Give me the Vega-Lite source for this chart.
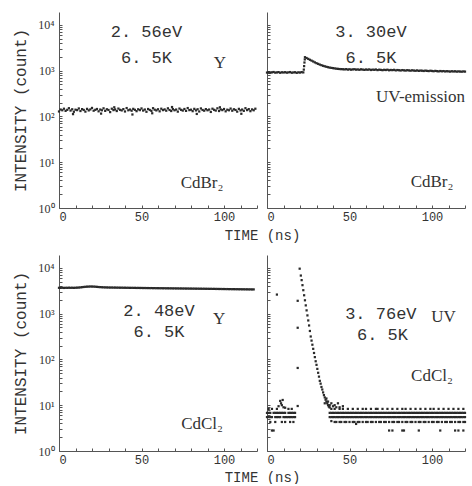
{
  "$schema": "https://vega.github.io/schema/vega-lite/v6.json",
  "background": "white",
  "padding": {"left": 12, "top": 12, "right": 0, "bottom": 0},
  "config": {
    "view": {"stroke": null},
    "axis": {
      "domainColor": "#555", "tickColor": "#555", "grid": false,
      "labelColor": "#333", "titleColor": "#333",
      "labelFont": "Liberation Mono", "titleFont": "Liberation Mono", "titleFontWeight": "normal"
    },
    "text": {"color": "#333"}
  },
  "datasets": {
    "tl": [
      {"t":0,"v":128},{"t":1,"v":141},{"t":2,"v":136},{"t":3,"v":147},{"t":4,"v":132},{"t":5,"v":139},{"t":6,"v":151},{"t":7,"v":134},{"t":8,"v":143},{"t":9,"v":126},
      {"t":10,"v":140},{"t":11,"v":137},{"t":12,"v":149},{"t":13,"v":131},{"t":14,"v":144},{"t":15,"v":138},{"t":16,"v":127},{"t":17,"v":146},{"t":18,"v":135},{"t":19,"v":142},
      {"t":20,"v":153},{"t":21,"v":133},{"t":22,"v":139},{"t":23,"v":145},{"t":24,"v":129},{"t":25,"v":141},{"t":26,"v":136},{"t":27,"v":150},{"t":28,"v":132},{"t":29,"v":143},
      {"t":30,"v":138},{"t":31,"v":124},{"t":32,"v":147},{"t":33,"v":137},{"t":34,"v":142},{"t":35,"v":131},{"t":36,"v":148},{"t":37,"v":139},{"t":38,"v":135},{"t":39,"v":144},
      {"t":40,"v":128},{"t":41,"v":152},{"t":42,"v":136},{"t":43,"v":141},{"t":44,"v":133},{"t":45,"v":146},{"t":46,"v":139},{"t":47,"v":130},{"t":48,"v":143},{"t":49,"v":137},
      {"t":50,"v":149},{"t":51,"v":134},{"t":52,"v":141},{"t":53,"v":126},{"t":54,"v":145},{"t":55,"v":138},{"t":56,"v":132},{"t":57,"v":151},{"t":58,"v":140},{"t":59,"v":135},
      {"t":60,"v":143},{"t":61,"v":129},{"t":62,"v":147},{"t":63,"v":137},{"t":64,"v":142},{"t":65,"v":133},{"t":66,"v":150},{"t":67,"v":138},{"t":68,"v":131},{"t":69,"v":144},
      {"t":70,"v":136},{"t":71,"v":141},{"t":72,"v":127},{"t":73,"v":148},{"t":74,"v":139},{"t":75,"v":134},{"t":76,"v":145},{"t":77,"v":132},{"t":78,"v":152},{"t":79,"v":137},
      {"t":80,"v":140},{"t":81,"v":130},{"t":82,"v":146},{"t":83,"v":135},{"t":84,"v":143},{"t":85,"v":128},{"t":86,"v":149},{"t":87,"v":138},{"t":88,"v":133},{"t":89,"v":144},
      {"t":90,"v":136},{"t":91,"v":141},{"t":92,"v":125},{"t":93,"v":147},{"t":94,"v":139},{"t":95,"v":134},{"t":96,"v":150},{"t":97,"v":131},{"t":98,"v":142},{"t":99,"v":137},
      {"t":100,"v":145},{"t":101,"v":129},{"t":102,"v":140},{"t":103,"v":136},{"t":104,"v":148},{"t":105,"v":133},{"t":106,"v":143},{"t":107,"v":138},{"t":108,"v":127},{"t":109,"v":146},
      {"t":110,"v":135},{"t":111,"v":141},{"t":112,"v":132},{"t":113,"v":151},{"t":114,"v":137},{"t":115,"v":144},{"t":116,"v":130},{"t":117,"v":142},{"t":118,"v":136},{"t":119,"v":147},
      {"t":8.5,"v":112},{"t":25.5,"v":115},{"t":44.5,"v":110},{"t":68.5,"v":160},{"t":83.5,"v":113},{"t":97.5,"v":158},{"t":110.5,"v":114},{"t":56.5,"v":117},{"t":33.5,"v":158}
    ],
    "tr": [
      {"t":0,"v":905},{"t":1,"v":920},{"t":2,"v":898},{"t":3,"v":915},{"t":4,"v":930},{"t":5,"v":902},{"t":6,"v":912},{"t":7,"v":925},{"t":8,"v":895},{"t":9,"v":918},
      {"t":10,"v":908},{"t":11,"v":922},{"t":12,"v":900},{"t":13,"v":914},{"t":14,"v":928},{"t":15,"v":896},{"t":16,"v":910},{"t":17,"v":920},{"t":18,"v":892},{"t":19,"v":915},
      {"t":20,"v":905},{"t":21,"v":925},{"t":22,"v":912},{"t":22.3,"v":1050},{"t":22.5,"v":1250},{"t":22.7,"v":1500},{"t":22.9,"v":1750},
      {"t":23,"v":1960},{"t":24,"v":1880},{"t":25,"v":1800},{"t":26,"v":1720},{"t":27,"v":1650},{"t":28,"v":1580},{"t":29,"v":1510},
      {"t":30,"v":1450},{"t":31,"v":1400},{"t":32,"v":1350},{"t":33,"v":1310},{"t":34,"v":1270},{"t":35,"v":1240},{"t":36,"v":1210},{"t":37,"v":1185},{"t":38,"v":1160},{"t":39,"v":1145},
      {"t":40,"v":1130},{"t":41,"v":1115},{"t":42,"v":1100},{"t":43,"v":1090},{"t":44,"v":1080},{"t":45,"v":1075},{"t":46,"v":1070},{"t":47,"v":1060},{"t":48,"v":1075},{"t":49,"v":1050},
      {"t":50,"v":1068},{"t":51,"v":1045},{"t":52,"v":1062},{"t":53,"v":1070},{"t":54,"v":1048},{"t":55,"v":1058},{"t":56,"v":1040},{"t":57,"v":1065},{"t":58,"v":1050},{"t":59,"v":1035},
      {"t":60,"v":1055},{"t":61,"v":1042},{"t":62,"v":1060},{"t":63,"v":1030},{"t":64,"v":1048},{"t":65,"v":1038},{"t":66,"v":1055},{"t":67,"v":1025},{"t":68,"v":1045},{"t":69,"v":1035},
      {"t":70,"v":1020},{"t":71,"v":1040},{"t":72,"v":1028},{"t":73,"v":1045},{"t":74,"v":1015},{"t":75,"v":1032},{"t":76,"v":1022},{"t":77,"v":1038},{"t":78,"v":1010},{"t":79,"v":1028},
      {"t":80,"v":1018},{"t":81,"v":1005},{"t":82,"v":1025},{"t":83,"v":1012},{"t":84,"v":1000},{"t":85,"v":1020},{"t":86,"v":1008},{"t":87,"v":995},{"t":88,"v":1015},{"t":89,"v":1000},
      {"t":90,"v":990},{"t":91,"v":1008},{"t":92,"v":985},{"t":93,"v":1000},{"t":94,"v":992},{"t":95,"v":980},{"t":96,"v":998},{"t":97,"v":985},{"t":98,"v":975},{"t":99,"v":992},
      {"t":100,"v":980},{"t":101,"v":968},{"t":102,"v":985},{"t":103,"v":972},{"t":104,"v":960},{"t":105,"v":978},{"t":106,"v":965},{"t":107,"v":975},{"t":108,"v":958},{"t":109,"v":970},
      {"t":110,"v":962},{"t":111,"v":950},{"t":112,"v":968},{"t":113,"v":955},{"t":114,"v":965},{"t":115,"v":948},{"t":116,"v":960},{"t":117,"v":952},{"t":118,"v":945},{"t":119,"v":958},{"t":120,"v":950}
    ],
    "bl": [
      {"t":0,"v":3650},{"t":1,"v":3640},{"t":2,"v":3660},{"t":3,"v":3630},{"t":4,"v":3655},{"t":5,"v":3645},{"t":6,"v":3670},{"t":7,"v":3650},{"t":8,"v":3660},{"t":9,"v":3640},
      {"t":10,"v":3665},{"t":11,"v":3680},{"t":12,"v":3700},{"t":13,"v":3730},{"t":14,"v":3770},{"t":15,"v":3810},{"t":16,"v":3840},{"t":17,"v":3870},{"t":18,"v":3880},{"t":19,"v":3900},
      {"t":20,"v":3890},{"t":21,"v":3880},{"t":22,"v":3860},{"t":23,"v":3830},{"t":24,"v":3800},{"t":25,"v":3780},{"t":26,"v":3760},{"t":27,"v":3740},{"t":28,"v":3730},{"t":29,"v":3720},
      {"t":30,"v":3710},{"t":31,"v":3700},{"t":32,"v":3705},{"t":33,"v":3690},{"t":34,"v":3695},{"t":35,"v":3680},{"t":36,"v":3685},{"t":37,"v":3670},{"t":38,"v":3675},{"t":39,"v":3660},
      {"t":40,"v":3665},{"t":41,"v":3650},{"t":42,"v":3655},{"t":43,"v":3640},{"t":44,"v":3648},{"t":45,"v":3635},{"t":46,"v":3640},{"t":47,"v":3625},{"t":48,"v":3632},{"t":49,"v":3620},
      {"t":50,"v":3625},{"t":51,"v":3610},{"t":52,"v":3618},{"t":53,"v":3605},{"t":54,"v":3610},{"t":55,"v":3598},{"t":56,"v":3604},{"t":57,"v":3590},{"t":58,"v":3596},{"t":59,"v":3582},
      {"t":60,"v":3588},{"t":61,"v":3575},{"t":62,"v":3580},{"t":63,"v":3568},{"t":64,"v":3572},{"t":65,"v":3560},{"t":66,"v":3566},{"t":67,"v":3552},{"t":68,"v":3558},{"t":69,"v":3545},
      {"t":70,"v":3550},{"t":71,"v":3538},{"t":72,"v":3542},{"t":73,"v":3530},{"t":74,"v":3535},{"t":75,"v":3522},{"t":76,"v":3528},{"t":77,"v":3515},{"t":78,"v":3520},{"t":79,"v":3508},
      {"t":80,"v":3512},{"t":81,"v":3500},{"t":82,"v":3505},{"t":83,"v":3492},{"t":84,"v":3498},{"t":85,"v":3485},{"t":86,"v":3490},{"t":87,"v":3478},{"t":88,"v":3482},{"t":89,"v":3470},
      {"t":90,"v":3475},{"t":91,"v":3462},{"t":92,"v":3468},{"t":93,"v":3455},{"t":94,"v":3460},{"t":95,"v":3448},{"t":96,"v":3452},{"t":97,"v":3440},{"t":98,"v":3445},{"t":99,"v":3432},
      {"t":100,"v":3438},{"t":101,"v":3425},{"t":102,"v":3430},{"t":103,"v":3418},{"t":104,"v":3422},{"t":105,"v":3410},{"t":106,"v":3415},{"t":107,"v":3402},{"t":108,"v":3408},{"t":109,"v":3395},
      {"t":110,"v":3400},{"t":111,"v":3388},{"t":112,"v":3392},{"t":113,"v":3380},{"t":114,"v":3385},{"t":115,"v":3372},{"t":116,"v":3378},{"t":117,"v":3365},{"t":118,"v":3370}
    ],
    "br": [
      {"t":0,"v":6.8},{"t":1,"v":6.8},{"t":2,"v":6.8},{"t":4,"v":6.8},{"t":5,"v":6.8},{"t":6,"v":6.8},{"t":7,"v":6.8},{"t":8,"v":6.8},{"t":9,"v":6.8},{"t":10,"v":6.8},{"t":11,"v":6.8},{"t":13,"v":6.8},{"t":14,"v":6.8},{"t":15,"v":6.8},{"t":16,"v":6.8},{"t":17,"v":6.8},
      {"t":0,"v":5.5},{"t":1,"v":5.5},{"t":2,"v":5.5},{"t":3,"v":5.5},{"t":5,"v":5.5},{"t":6,"v":5.5},{"t":7,"v":5.5},{"t":8,"v":5.5},{"t":10,"v":5.5},{"t":11,"v":5.5},{"t":12,"v":5.5},{"t":13,"v":5.5},{"t":14,"v":5.5},{"t":15,"v":5.5},{"t":16,"v":5.5},{"t":17,"v":5.5},
      {"t":1,"v":8.3},{"t":3,"v":8.3},{"t":6,"v":8.3},{"t":13,"v":8.3},{"t":15,"v":8.3},
      {"t":2,"v":4.3},{"t":5,"v":4.3},{"t":9,"v":4.3},{"t":11,"v":4.3},{"t":14,"v":4.3},{"t":16,"v":4.3},
      {"t":3,"v":2.8},{"t":4,"v":2.8},
      {"t":7,"v":9.5},{"t":8,"v":12.4},{"t":8.5,"v":11},{"t":9,"v":10},{"t":9.5,"v":13},{"t":10,"v":9},{"t":11,"v":8.8},
      {"t":6,"v":2600},
      {"t":18.6,"v":1900},{"t":18.6,"v":490},{"t":18.6,"v":65},{"t":18.6,"v":9.6},
      {"t":19.8,"v":9550},{"t":20.5,"v":6760},{"t":21,"v":5370},{"t":21.5,"v":4170},{"t":22,"v":3240},{"t":22.5,"v":2510},{"t":23,"v":1950},{"t":23.5,"v":1510},{"t":24,"v":1175},{"t":24.5,"v":912},
      {"t":25,"v":708},{"t":25.5,"v":550},{"t":26,"v":417},{"t":26.5,"v":316},{"t":27,"v":257},{"t":27.5,"v":209},{"t":28,"v":170},{"t":28.5,"v":138},{"t":29,"v":112},{"t":29.5,"v":91},
      {"t":30,"v":76},{"t":30.5,"v":62},{"t":31,"v":51},{"t":31.5,"v":42},{"t":32,"v":34},{"t":32.5,"v":29.5},{"t":33,"v":25},{"t":33.5,"v":22},{"t":34,"v":19},{"t":34.5,"v":16.6},
      {"t":35,"v":14.8},{"t":35.5,"v":13.2},{"t":36,"v":12},{"t":36.5,"v":11},{"t":37,"v":10},{"t":37.5,"v":9.3},{"t":38,"v":8.9},
      {"t":35,"v":11},{"t":36,"v":14},{"t":37,"v":12},{"t":38,"v":10},{"t":39,"v":11},{"t":40,"v":9.5},{"t":41,"v":10},{"t":42,"v":9},{"t":43,"v":11},{"t":44,"v":9},{"t":46,"v":9.5},
      {"t":38,"v":6.8},{"t":39,"v":6.8},{"t":40,"v":6.8},{"t":41,"v":6.8},{"t":42,"v":6.8},{"t":43,"v":6.8},{"t":44,"v":6.8},{"t":45,"v":6.8},{"t":46,"v":6.8},{"t":47,"v":6.8},{"t":48,"v":6.8},{"t":49,"v":6.8},
      {"t":50,"v":6.8},{"t":51,"v":6.8},{"t":52,"v":6.8},{"t":53,"v":6.8},{"t":54,"v":6.8},{"t":55,"v":6.8},{"t":56,"v":6.8},{"t":57,"v":6.8},{"t":58,"v":6.8},{"t":59,"v":6.8},
      {"t":60,"v":6.8},{"t":61,"v":6.8},{"t":62,"v":6.8},{"t":63,"v":6.8},{"t":64,"v":6.8},{"t":65,"v":6.8},{"t":66,"v":6.8},{"t":67,"v":6.8},{"t":68,"v":6.8},{"t":69,"v":6.8},
      {"t":70,"v":6.8},{"t":71,"v":6.8},{"t":72,"v":6.8},{"t":73,"v":6.8},{"t":74,"v":6.8},{"t":75,"v":6.8},{"t":76,"v":6.8},{"t":77,"v":6.8},{"t":78,"v":6.8},{"t":79,"v":6.8},
      {"t":80,"v":6.8},{"t":81,"v":6.8},{"t":82,"v":6.8},{"t":83,"v":6.8},{"t":84,"v":6.8},{"t":85,"v":6.8},{"t":86,"v":6.8},{"t":87,"v":6.8},{"t":88,"v":6.8},{"t":89,"v":6.8},
      {"t":90,"v":6.8},{"t":91,"v":6.8},{"t":92,"v":6.8},{"t":93,"v":6.8},{"t":94,"v":6.8},{"t":95,"v":6.8},{"t":96,"v":6.8},{"t":97,"v":6.8},{"t":98,"v":6.8},{"t":99,"v":6.8},
      {"t":100,"v":6.8},{"t":101,"v":6.8},{"t":102,"v":6.8},{"t":103,"v":6.8},{"t":104,"v":6.8},{"t":105,"v":6.8},{"t":106,"v":6.8},{"t":107,"v":6.8},{"t":108,"v":6.8},{"t":109,"v":6.8},
      {"t":110,"v":6.8},{"t":111,"v":6.8},{"t":112,"v":6.8},{"t":113,"v":6.8},{"t":114,"v":6.8},{"t":115,"v":6.8},{"t":116,"v":6.8},{"t":117,"v":6.8},{"t":118,"v":6.8},{"t":119,"v":6.8},{"t":120,"v":6.8},
      {"t":38,"v":5.5},{"t":39,"v":5.5},{"t":40,"v":5.5},{"t":41,"v":5.5},{"t":42,"v":5.5},{"t":43,"v":5.5},{"t":44,"v":5.5},{"t":45,"v":5.5},{"t":46,"v":5.5},{"t":47,"v":5.5},{"t":48,"v":5.5},{"t":49,"v":5.5},
      {"t":50,"v":5.5},{"t":51,"v":5.5},{"t":52,"v":5.5},{"t":53,"v":5.5},{"t":54,"v":5.5},{"t":55,"v":5.5},{"t":56,"v":5.5},{"t":57,"v":5.5},{"t":58,"v":5.5},{"t":59,"v":5.5},
      {"t":60,"v":5.5},{"t":61,"v":5.5},{"t":62,"v":5.5},{"t":63,"v":5.5},{"t":64,"v":5.5},{"t":65,"v":5.5},{"t":66,"v":5.5},{"t":67,"v":5.5},{"t":68,"v":5.5},{"t":69,"v":5.5},
      {"t":70,"v":5.5},{"t":71,"v":5.5},{"t":72,"v":5.5},{"t":73,"v":5.5},{"t":74,"v":5.5},{"t":75,"v":5.5},{"t":76,"v":5.5},{"t":77,"v":5.5},{"t":78,"v":5.5},{"t":79,"v":5.5},
      {"t":80,"v":5.5},{"t":81,"v":5.5},{"t":82,"v":5.5},{"t":83,"v":5.5},{"t":84,"v":5.5},{"t":85,"v":5.5},{"t":86,"v":5.5},{"t":87,"v":5.5},{"t":88,"v":5.5},{"t":89,"v":5.5},
      {"t":90,"v":5.5},{"t":91,"v":5.5},{"t":92,"v":5.5},{"t":93,"v":5.5},{"t":94,"v":5.5},{"t":95,"v":5.5},{"t":96,"v":5.5},{"t":97,"v":5.5},{"t":98,"v":5.5},{"t":99,"v":5.5},
      {"t":100,"v":5.5},{"t":101,"v":5.5},{"t":102,"v":5.5},{"t":103,"v":5.5},{"t":104,"v":5.5},{"t":105,"v":5.5},{"t":106,"v":5.5},{"t":107,"v":5.5},{"t":108,"v":5.5},{"t":109,"v":5.5},
      {"t":110,"v":5.5},{"t":111,"v":5.5},{"t":112,"v":5.5},{"t":113,"v":5.5},{"t":114,"v":5.5},{"t":115,"v":5.5},{"t":116,"v":5.5},{"t":117,"v":5.5},{"t":118,"v":5.5},{"t":119,"v":5.5},{"t":120,"v":5.5},
      {"t":39,"v":8.3},{"t":41,"v":8.3},{"t":44,"v":8.3},{"t":46,"v":8.3},{"t":49,"v":8.3},{"t":52,"v":8.3},{"t":55,"v":8.3},{"t":58,"v":8.3},{"t":60,"v":8.3},{"t":63,"v":8.3},
      {"t":66,"v":8.3},{"t":67,"v":8.3},{"t":70,"v":8.3},{"t":73,"v":8.3},{"t":76,"v":8.3},{"t":79,"v":8.3},{"t":82,"v":8.3},{"t":84,"v":8.3},{"t":87,"v":8.3},{"t":90,"v":8.3},
      {"t":93,"v":8.3},{"t":96,"v":8.3},{"t":99,"v":8.3},{"t":101,"v":8.3},{"t":104,"v":8.3},{"t":107,"v":8.3},{"t":110,"v":8.3},{"t":113,"v":8.3},{"t":116,"v":8.3},{"t":119,"v":8.3},
      {"t":41,"v":4.3},{"t":42,"v":4.3},{"t":44,"v":4.3},{"t":45,"v":4.3},{"t":47,"v":4.3},{"t":48,"v":4.3},{"t":50,"v":4.3},{"t":52,"v":4.3},{"t":53,"v":4.3},{"t":55,"v":4.3},
      {"t":56,"v":4.3},{"t":58,"v":4.3},{"t":60,"v":4.3},{"t":61,"v":4.3},{"t":63,"v":4.3},{"t":64,"v":4.3},{"t":66,"v":4.3},{"t":68,"v":4.3},{"t":69,"v":4.3},{"t":71,"v":4.3},
      {"t":72,"v":4.3},{"t":74,"v":4.3},{"t":76,"v":4.3},{"t":77,"v":4.3},{"t":79,"v":4.3},{"t":80,"v":4.3},{"t":82,"v":4.3},{"t":84,"v":4.3},{"t":85,"v":4.3},{"t":87,"v":4.3},
      {"t":88,"v":4.3},{"t":90,"v":4.3},{"t":92,"v":4.3},{"t":93,"v":4.3},{"t":95,"v":4.3},{"t":96,"v":4.3},{"t":98,"v":4.3},{"t":100,"v":4.3},{"t":101,"v":4.3},{"t":103,"v":4.3},
      {"t":104,"v":4.3},{"t":106,"v":4.3},{"t":108,"v":4.3},{"t":109,"v":4.3},{"t":111,"v":4.3},{"t":112,"v":4.3},{"t":114,"v":4.3},{"t":116,"v":4.3},{"t":117,"v":4.3},{"t":119,"v":4.3},{"t":120,"v":4.3},
      {"t":54,"v":3.9},{"t":39,"v":4.5},
      {"t":74,"v":2.8},{"t":76,"v":2.8},{"t":82,"v":2.8},{"t":83,"v":2.8},{"t":92,"v":2.8},{"t":105,"v":2.8},{"t":114,"v":2.8},{"t":116,"v":2.8},{"t":119,"v":2.8}
    ]
  },
  "columns": 2,
  "bounds": "flush",
  "spacing": {"row": 47, "column": 10},
  "concat": [
    {
      "width": 198, "height": 196,
      "encoding": {
        "x": {"field": "t", "type": "quantitative", "scale": {"domain": [0, 120]},
          "axis": {"values": [0,10,20,30,40,50,60,70,80,90,100,110,120], "labelExpr": "datum.value % 50 == 0 ? datum.label : ''", "tickSize": -3, "labelPadding": 6, "labelFontSize": 12, "title": "TIME (ns)", "titleFontSize": 14, "titleX": 203, "titleY": 27, "titleAnchor": "middle", "titleBaseline": "middle"}},
        "y": {"field": "v", "type": "quantitative", "scale": {"type": "log", "domain": [1, 19000]},
          "axis": {"values": [1,2,3,4,5,6,7,8,9,10,20,30,40,50,60,70,80,90,100,200,300,400,500,600,700,800,900,1000,2000,3000,4000,5000,6000,7000,8000,9000,10000], "labelExpr": "datum.value == 1 ? '10⁰' : datum.value == 10 ? '10¹' : datum.value == 100 ? '10²' : datum.value == 1000 ? '10³' : datum.value == 10000 ? '10⁴' : ''", "labelFont": "Liberation Serif", "labelFontSize": 12, "tickSize": -3, "labelPadding": 8, "title": "INTENSITY (count)", "titleFontSize": 16, "titlePadding": 9}}
      },
      "layer": [
        {"data": {"name": "tl"}, "mark": {"type": "point", "filled": true, "shape": "square", "size": 5, "color": "#2a2a2a", "opacity": 1}},
        {"data": {"values": [{"s": "2. 56eV", "t": 53, "v": 7000}, {"s": "6. 5K", "t": 53, "v": 1900}]}, "mark": {"type": "text", "font": "Liberation Mono", "fontSize": 17}, "encoding": {"text": {"field": "s"}}},
        {"data": {"values": [{"s": "Y", "t": 97.5, "v": 1480}, {"s": "CdBr₂", "t": 86.7, "v": 3.5}]}, "mark": {"type": "text", "font": "Liberation Serif", "fontSize": 17}, "encoding": {"text": {"field": "s"}}}
      ]
    },
    {
      "width": 198, "height": 196,
      "encoding": {
        "x": {"field": "t", "type": "quantitative", "scale": {"domain": [0, 120]},
          "axis": {"values": [0,10,20,30,40,50,60,70,80,90,100,110,120], "labelExpr": "datum.value % 50 == 0 ? datum.label : ''", "tickSize": -3, "labelPadding": 6, "labelFontSize": 12, "title": null}},
        "y": {"field": "v", "type": "quantitative", "scale": {"type": "log", "domain": [1, 19000]},
          "axis": {"values": [1,2,3,4,5,6,7,8,9,10,20,30,40,50,60,70,80,90,100,200,300,400,500,600,700,800,900,1000,2000,3000,4000,5000,6000,7000,8000,9000,10000], "labels": false, "tickSize": -3, "title": null}}
      },
      "layer": [
        {"data": {"name": "tr"}, "mark": {"type": "point", "filled": true, "shape": "square", "size": 5, "color": "#2a2a2a", "opacity": 1}},
        {"data": {"values": [{"s": "3. 30eV", "t": 63, "v": 7000}, {"s": "6. 5K", "t": 63, "v": 1900}]}, "mark": {"type": "text", "font": "Liberation Mono", "fontSize": 17}, "encoding": {"text": {"field": "s"}}},
        {"data": {"values": [{"s": "UV-emission", "t": 93, "v": 267}, {"s": "CdBr₂", "t": 100, "v": 3.7}]}, "mark": {"type": "text", "font": "Liberation Serif", "fontSize": 17}, "encoding": {"text": {"field": "s"}}}
      ]
    },
    {
      "width": 198, "height": 196,
      "encoding": {
        "x": {"field": "t", "type": "quantitative", "scale": {"domain": [0, 120]},
          "axis": {"values": [0,10,20,30,40,50,60,70,80,90,100,110,120], "labelExpr": "datum.value % 50 == 0 ? datum.label : ''", "tickSize": -3, "labelPadding": 6, "labelFontSize": 12, "title": "TIME (ns)", "titleFontSize": 14, "titleX": 203, "titleY": 26, "titleAnchor": "middle", "titleBaseline": "middle"}},
        "y": {"field": "v", "type": "quantitative", "scale": {"type": "log", "domain": [1, 19000]},
          "axis": {"values": [1,2,3,4,5,6,7,8,9,10,20,30,40,50,60,70,80,90,100,200,300,400,500,600,700,800,900,1000,2000,3000,4000,5000,6000,7000,8000,9000,10000], "labelExpr": "datum.value == 1 ? '10⁰' : datum.value == 10 ? '10¹' : datum.value == 100 ? '10²' : datum.value == 1000 ? '10³' : datum.value == 10000 ? '10⁴' : ''", "labelFont": "Liberation Serif", "labelFontSize": 12, "tickSize": -3, "labelPadding": 8, "title": "INTENSITY (count)", "titleFontSize": 16, "titlePadding": 9}}
      },
      "layer": [
        {"data": {"name": "bl"}, "mark": {"type": "point", "filled": true, "shape": "square", "size": 5, "color": "#2a2a2a", "opacity": 1}},
        {"data": {"values": [{"s": "2. 48eV", "t": 60.6, "v": 1150}, {"s": "6. 5K", "t": 60.6, "v": 400}]}, "mark": {"type": "text", "font": "Liberation Mono", "fontSize": 17}, "encoding": {"text": {"field": "s"}}},
        {"data": {"values": [{"s": "Y", "t": 97, "v": 770}, {"s": "CdCl₂", "t": 86.7, "v": 3.9}]}, "mark": {"type": "text", "font": "Liberation Serif", "fontSize": 17}, "encoding": {"text": {"field": "s"}}}
      ]
    },
    {
      "width": 198, "height": 196,
      "encoding": {
        "x": {"field": "t", "type": "quantitative", "scale": {"domain": [0, 120]},
          "axis": {"values": [0,10,20,30,40,50,60,70,80,90,100,110,120], "labelExpr": "datum.value % 50 == 0 ? datum.label : ''", "tickSize": -3, "labelPadding": 6, "labelFontSize": 12, "title": null}},
        "y": {"field": "v", "type": "quantitative", "scale": {"type": "log", "domain": [1, 19000]},
          "axis": {"values": [1,2,3,4,5,6,7,8,9,10,20,30,40,50,60,70,80,90,100,200,300,400,500,600,700,800,900,1000,2000,3000,4000,5000,6000,7000,8000,9000,10000], "labels": false, "tickSize": -3, "title": null}}
      },
      "layer": [
        {"data": {"name": "br"}, "mark": {"type": "point", "filled": true, "shape": "square", "size": 5, "color": "#2a2a2a", "opacity": 1}},
        {"data": {"values": [{"s": "3. 76eV", "t": 69, "v": 980}, {"s": "6. 5K", "t": 70, "v": 345}]}, "mark": {"type": "text", "font": "Liberation Mono", "fontSize": 17}, "encoding": {"text": {"field": "s"}}},
        {"data": {"values": [{"s": "UV", "t": 107, "v": 850}, {"s": "CdCl₂", "t": 100, "v": 44}]}, "mark": {"type": "text", "font": "Liberation Serif", "fontSize": 17}, "encoding": {"text": {"field": "s"}}}
      ]
    }
  ]
}
